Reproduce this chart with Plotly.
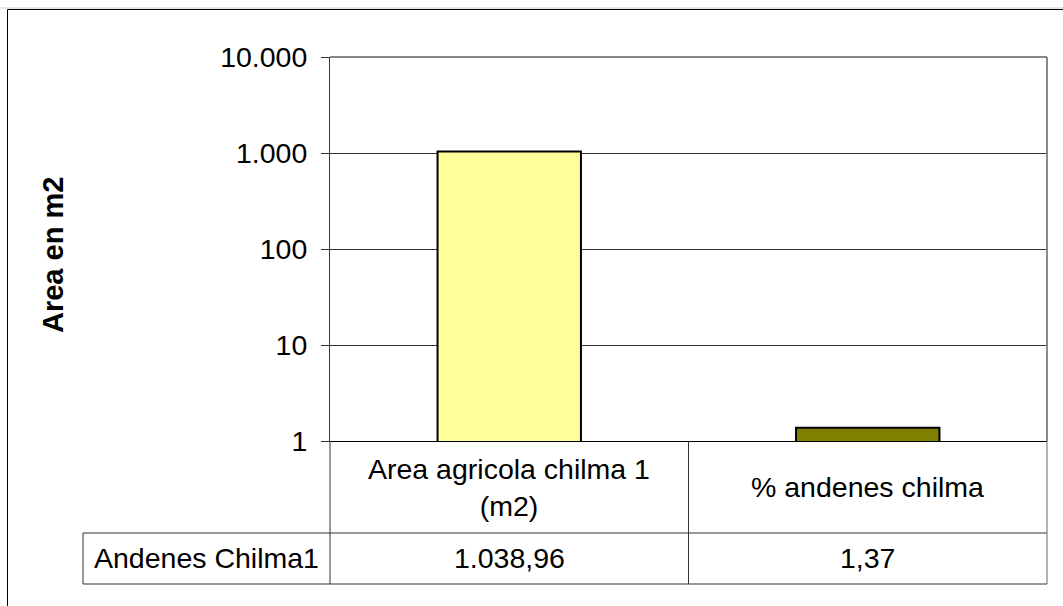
import plotly.graph_objects as go

categories = ["Area agricola chilma 1 (m2)", "% andenes chilma"]
category_labels = ["Area agricola chilma 1<br>(m2)", "% andenes chilma"]
series_name = "Andenes Chilma1"
values = [1038.96, 1.37]
bar_colors = ["#FFFF99", "#808000"]
tick_vals = [1, 10, 100, 1000, 10000]
tick_text = ["1", "10", "100", "1.000", "10.000"]
y_title = "Area en m2"

W, H = 1063, 606
L, R, T, B = 330, 1047, 57, 441
pw, ph = R - L, B - T


def px(x):
    return (x - L) / pw


def py(y):
    return (B - y) / ph


def es_fmt(v):
    s = f"{v:,.2f}"
    return s.replace(",", "X").replace(".", ",").replace("X", ".")


FONT = "Liberation Sans, Arial, sans-serif"
FS = 28.5

fig = go.Figure()
fig.add_trace(go.Bar(
    x=categories, y=values, width=0.4,
    marker=dict(color=bar_colors, line=dict(color="black", width=2)),
    name=series_name, showlegend=False,
))

shapes = []
line_dark = dict(color="#333333", width=1)
# table lines
shapes.append(dict(type="line", xref="paper", yref="paper", x0=px(83), x1=1, y0=py(533), y1=py(533), line=line_dark))
shapes.append(dict(type="line", xref="paper", yref="paper", x0=px(83), x1=1, y0=py(584), y1=py(584), line=line_dark))
shapes.append(dict(type="line", xref="paper", yref="paper", x0=px(83), x1=px(83), y0=py(533), y1=py(584), line=line_dark))
shapes.append(dict(type="line", xref="paper", yref="paper", x0=0, x1=0, y0=py(441), y1=py(584), line=line_dark))
shapes.append(dict(type="line", xref="x", yref="paper", x0=0.5, x1=0.5, y0=py(441), y1=py(584), line=line_dark))
shapes.append(dict(type="line", xref="paper", yref="paper", x0=1, x1=1, y0=py(441), y1=py(584), line=dict(color="#666666", width=1)))
# plot area border (top/right gray)
shapes.append(dict(type="line", xref="paper", yref="paper", x0=0, x1=1, y0=1, y1=1, line=dict(color="#888888", width=2)))
shapes.append(dict(type="line", xref="paper", yref="paper", x0=1, x1=1, y0=0, y1=1, line=dict(color="#888888", width=2)))
# chart outer border
shapes.append(dict(type="line", xref="paper", yref="paper", x0=px(0), x1=px(W + 5), y0=py(8), y1=py(8), line=dict(color="#cccccc", width=1)))
shapes.append(dict(type="line", xref="paper", yref="paper", x0=px(7.5), x1=px(W + 5), y0=py(9.5), y1=py(9.5), line=dict(color="black", width=1)))
shapes.append(dict(type="line", xref="paper", yref="paper", x0=px(7.5), x1=px(7.5), y0=py(9.5), y1=py(H + 5), line=dict(color="black", width=1)))

annotations = []
for cat, lab, v in zip(categories, category_labels, values):
    annotations.append(dict(x=cat, xref="x", yref="paper", y=py(487), text=lab, showarrow=False,
                            xanchor="center", yanchor="middle",
                            font=dict(family=FONT, size=FS, color="black"), align="center"))
    annotations.append(dict(x=cat, xref="x", yref="paper", y=py(558), text=es_fmt(v), showarrow=False,
                            xanchor="center", yanchor="middle",
                            font=dict(family=FONT, size=FS, color="black")))
annotations.append(dict(x=px(206), xref="paper", yref="paper", y=py(558), text=series_name, showarrow=False,
                        xanchor="center", yanchor="middle",
                        font=dict(family=FONT, size=FS, color="black")))
annotations.append(dict(x=px(53), xref="paper", yref="paper", y=py(255), text="<b>" + y_title + "</b>",
                        textangle=-90, showarrow=False, xanchor="center", yanchor="middle",
                        font=dict(family=FONT, size=29, color="black")))

fig.update_layout(
    width=W, height=H,
    margin=dict(l=L, r=W - R, t=T, b=H - B, pad=0),
    paper_bgcolor="white", plot_bgcolor="white",
    font=dict(family=FONT, size=FS, color="black"),
    shapes=shapes, annotations=annotations,
    bargap=0.6,
)
fig.update_xaxes(
    type="category", range=[-0.5, 1.5], showticklabels=False, ticks="",
    showline=True, linecolor="black", linewidth=1, showgrid=False, zeroline=False,
)
fig.update_yaxes(
    type="log", range=[0, 4], tickvals=tick_vals, ticktext=tick_text,
    ticks="outside", ticklen=8, tickcolor="#333333", tickwidth=1,
    showline=True, linecolor="#333333", linewidth=1,
    showgrid=True, gridcolor="#333333", gridwidth=1,
    tickfont=dict(family=FONT, size=FS, color="black"),
    ticklabelstandoff=8, zeroline=False,
)

fig.write_html("out.html")
